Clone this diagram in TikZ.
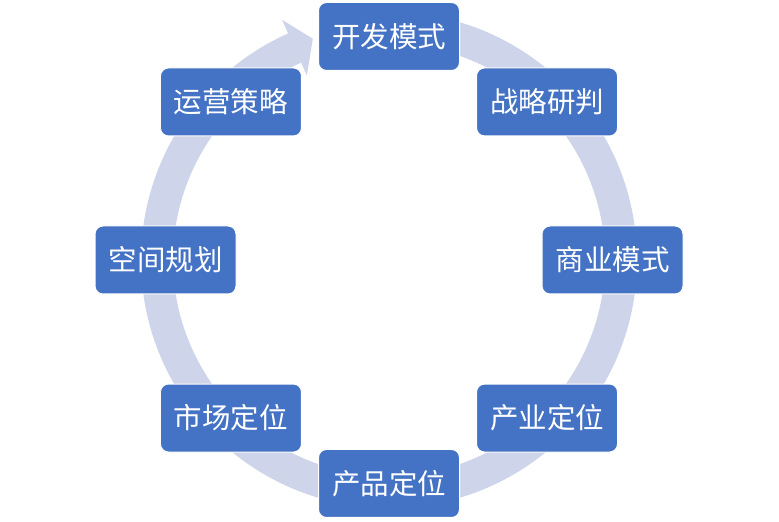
\documentclass[tikz,border=0pt]{standalone}
\usepackage{fontspec}
\newfontfamily\cjk{Noto Sans CJK SC}
\definecolor{ringc}{RGB}{206,212,234}
\definecolor{boxc}{RGB}{68,114,196}
\begin{document}
\begin{tikzpicture}[x=1pt,y=1pt,
  stage/.style={draw=white,line width=1pt,fill=boxc,rounded corners=8pt,
    minimum width=141pt,minimum height=68pt,inner sep=0pt,
    text=white,font=\cjk\fontsize{28.5}{30}\selectfont}]
\useasboundingbox (0,0) rectangle (779,522);
\coordinate (c) at (389,262);
\begin{scope}[shift={(c)}]
\fill[ringc] (95:248pt) arc[start angle=95,end angle=-246,radius=248pt]
  -- (-246:263pt) -- (-251:234pt) -- (-246:202pt) -- (-246:216pt)
  arc[start angle=-246,end angle=95,radius=216pt] -- cycle;
\node[stage] (n1) at (90:223.5pt) {开发模式};
\node[stage] (n2) at (45:223.5pt) {战略研判};
\node[stage] (n3) at (0:223.5pt) {商业模式};
\node[stage] (n4) at (-45:223.5pt) {产业定位};
\node[stage] (n5) at (-90:223.5pt) {产品定位};
\node[stage] (n6) at (-135:223.5pt) {市场定位};
\node[stage] (n7) at (180:223.5pt) {空间规划};
\node[stage] (n8) at (135:223.5pt) {运营策略};
\end{scope}
\end{tikzpicture}
\end{document}
